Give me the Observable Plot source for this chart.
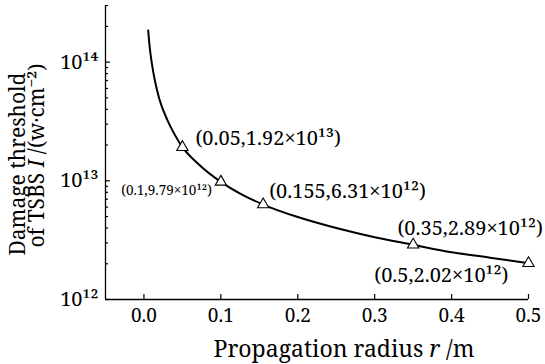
<!DOCTYPE html>
<html>
<head>
<meta charset="utf-8">
<script src="https://cdn.jsdelivr.net/npm/d3@7"></script>
<script src="https://cdn.jsdelivr.net/npm/@observablehq/plot@0.6"></script>
<style>
  html, body { margin: 0; padding: 0; background: #fff; }
  #chart svg { display: block; font-family: "Noto Serif", serif; }
  #chart svg text { font-family: "Noto Serif", serif; }
</style>
</head>
<body>
<div id="chart"></div>
<script>
// Curve
const curveR = [0.0055, 0.0075, 0.01, 0.015, 0.02, 0.03, 0.04, 0.05, 0.07, 0.1, 0.13, 0.155, 0.2, 0.25, 0.3, 0.35, 0.4, 0.45, 0.5];
const curveI = [1.85e14, 1.33e14, 1.0e14, 6.6e13, 4.9e13, 3.3e13, 2.45e13, 1.92e13, 1.4e13, 9.79e12, 7.5e12, 6.31e12, 4.95e12, 4.0e12, 3.35e12, 2.89e12, 2.5e12, 2.25e12, 2.02e12];
// Marked points
const pointR = [0.05, 0.1, 0.155, 0.35, 0.5];
const pointI = [1.92e13, 9.79e12, 6.31e12, 2.89e12, 2.02e12];
const pointLabels = ["(0.05,1.92×10¹³)", "(0.1,9.79×10¹²)", "(0.155,6.31×10¹²)", "(0.35,2.89×10¹²)", "(0.5,2.02×10¹²)"];
// Axes
const xTicks = [0, 0.1, 0.2, 0.3, 0.4, 0.5];
const yMajor = [1e12, 1e13, 1e14];
const yMajorLabels = ["10¹²", "10¹³", "10¹⁴"];
const yMinor = [2e12,3e12,4e12,5e12,6e12,7e12,8e12,9e12,2e13,3e13,4e13,5e13,6e13,7e13,8e13,9e13,2e14,3e14];
const xLabel = "Propagation radius r /m";
const yLabel1 = "Damage threshold";
const yLabel2 = "of TSBS I /(w·cm⁻²)";

const curve = curveR.map((r, i) => ({r, I: curveI[i]}));
const points = pointR.map((r, i) => ({r, I: pointI[i], label: pointLabels[i]}));

// label layout: [dx, dy, anchor, fontSize]
const labelLayout = [
  [13, -9, "start", 20],
  [-9, 9, "end", 13.5],
  [6, -13, "start", 20],
  [57, -16, "middle", 20],
  [-20, 12, "end", 20]
];

const FONT = "Noto Serif";

const plot = Plot.plot({
  width: 545,
  height: 364,
  marginLeft: 105,
  marginRight: 17,
  marginTop: 5,
  marginBottom: 65,
  style: {fontFamily: FONT, fontSize: "19px", color: "#000", background: "#fff"},
  x: {domain: [-0.05, 0.5], label: null},
  y: {type: "log", domain: [1e12, 3e14], label: null},
  marks: [
    // axis lines
    Plot.ruleY([1e12], {stroke: "#000", strokeWidth: 1.3}),
    Plot.ruleX([-0.05], {stroke: "#000", strokeWidth: 1.3}),
    // x ticks (inward) and labels
    Plot.axisX({ticks: xTicks, tickSize: -5, tickFormat: () => "", stroke: "#000", strokeWidth: 1.2, label: null}),
    Plot.axisX({ticks: xTicks, tickSize: 0, tickPadding: 9, tickFormat: d3.format(".1f"), fontSize: 19, fontFamily: FONT, fill: "#000", label: null}),
    // y ticks
    Plot.axisY({ticks: yMajor, tickSize: -5, tickFormat: () => "", stroke: "#000", strokeWidth: 1.2, label: null}),
    Plot.axisY({ticks: yMinor, tickSize: -3, tickFormat: () => "", stroke: "#000", strokeWidth: 1.2, label: null}),
    Plot.axisY({ticks: yMajor, tickSize: 0, tickPadding: 7, tickFormat: (d) => yMajorLabels[yMajor.indexOf(d)], fontSize: 20, fontFamily: FONT, fill: "#000", label: null}),
    // curve
    Plot.line(curve, {x: "r", y: "I", curve: "monotone-x", stroke: "#000", strokeWidth: 2}),
    // markers
    Plot.dot(points, {x: "r", y: "I", symbol: "triangle", r: 4.2, fill: "#fff", stroke: "#000", strokeWidth: 1.1}),
    // point labels
    ...points.map((p, i) => Plot.text([p], {
      x: "r", y: "I", text: "label",
      dx: labelLayout[i][0], dy: labelLayout[i][1],
      textAnchor: labelLayout[i][2], fontSize: labelLayout[i][3], fontFamily: FONT, fill: "#000"
    })),
    // axis titles
    Plot.text([xLabel], {frameAnchor: "bottom", dx: 27, dy: 50, lineAnchor: "middle", textAnchor: "middle", text: d => d, fontSize: 23, fontFamily: FONT, fill: "#000", className: "xlab"}),
    Plot.text([yLabel1], {frameAnchor: "left", dx: -87, dy: 11.5, rotate: -90, textAnchor: "middle", lineAnchor: "middle", text: d => d, fontSize: 21, fontFamily: FONT, fill: "#000", className: "ylab1"}),
    Plot.text([yLabel2], {frameAnchor: "left", dx: -68, dy: 3, rotate: -90, textAnchor: "middle", lineAnchor: "middle", text: d => d, fontSize: 21, fontFamily: FONT, fill: "#000", className: "ylab2"})
  ]
});

document.getElementById("chart").appendChild(plot);

// italicize the variable letters in the axis titles
function italicize(cls, ch) {
  d3.select(plot).selectAll(`g.${cls} text`).each(function() {
    const t = this.textContent;
    const idx = t.indexOf(" " + ch + " ") + 1;
    if (idx <= 0) return;
    const sel = d3.select(this);
    sel.text(null);
    sel.append("tspan").text(t.slice(0, idx));
    sel.append("tspan").attr("font-style", "italic").text(ch);
    sel.append("tspan").text(t.slice(idx + 1));
  });
}
italicize("xlab", "r");
italicize("ylab2", "I");
</script>
</body>
</html>
